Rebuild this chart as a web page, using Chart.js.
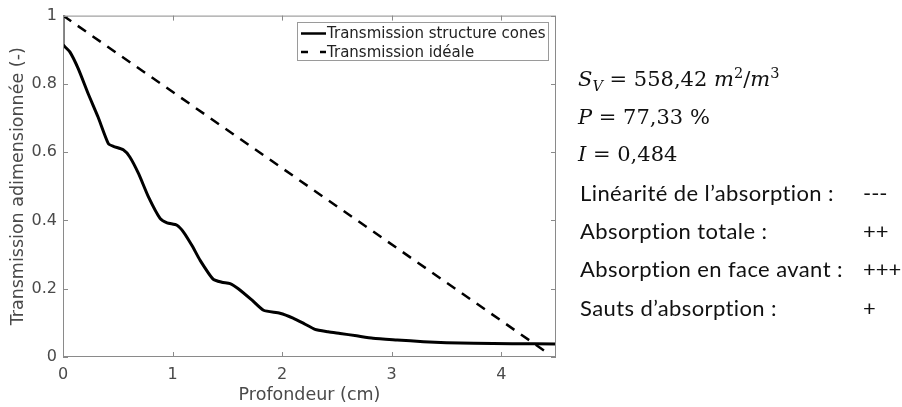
<!DOCTYPE html>
<html>
<head>
<meta charset="utf-8">
<script src="https://cdn.jsdelivr.net/npm/chart.js@4"></script>
<style>
  body { margin: 0; background: #fff; }
  #wrap { position: relative; width: 902px; height: 407px; overflow: hidden; }
  #graph { position: absolute; left: 0; top: 0; }
  .math { position: absolute; left: 578px; font-family: 'DejaVu Serif', serif; font-size: 21px; line-height: 22px; color: #111; white-space: nowrap; }
  .math i { font-style: italic; }
  .math sub, .math sup { font-size: 14.5px; line-height: 0; }
  .crit { position: absolute; left: 580px; font-family: Lato, sans-serif; font-size: 22px; letter-spacing: 0.4px; line-height: 22px; color: #111; white-space: nowrap; font-variant-ligatures: none; }
  .crit span { position: absolute; left: 283px; top: 0; letter-spacing: 0; }
</style>
</head>
<body>
<div id="wrap">
  <canvas id="graph" width="902" height="407"></canvas>
  <div class="math" style="top:68px"><i>S<sub>V</sub></i> = 558,42 <i>m</i><sup>2</sup>/<i>m</i><sup>3</sup></div>
  <div class="math" style="top:106px"><i>P</i> = 77,33 %</div>
  <div class="math" style="top:143px"><i>I</i> = 0,484</div>
  <div class="crit" style="top:182px">Linéarité de l’absorption :<span>---</span></div>
  <div class="crit" style="top:220px">Absorption totale :<span>++</span></div>
  <div class="crit" style="top:258px">Absorption en face avant :<span>+++</span></div>
  <div class="crit" style="top:297px">Sauts d’absorption :<span>+</span></div>
</div>
<script>
const depthCones = [0, 0, 0.064, 0.14, 0.23, 0.32, 0.414, 0.46, 0.55, 0.61, 0.69, 0.78, 0.886, 0.95, 1.04, 1.10, 1.18, 1.25, 1.37, 1.45, 1.525, 1.60, 1.72, 1.83, 1.98, 2.10, 2.20, 2.30, 2.42, 2.53, 2.68, 2.83, 3.05, 3.29, 3.5, 3.75, 4.1, 4.5]
const transCones = [1, 0.917, 0.893, 0.844, 0.771, 0.703, 0.625, 0.617, 0.607, 0.586, 0.537, 0.469, 0.406, 0.393, 0.386, 0.366, 0.325, 0.284, 0.228, 0.219, 0.215, 0.20, 0.168, 0.137, 0.128, 0.114, 0.098, 0.081, 0.074, 0.069, 0.062, 0.055, 0.050, 0.045, 0.042, 0.040, 0.039, 0.038]

const depthIdeal = [0, 4.4]
const transIdeal = [1, 0.017]

const xTicks = [0, 1, 2, 3, 4]
const yTicks = [0, 0.2, 0.4, 0.6, 0.8, 1]

const labels = ['Transmission structure cones', 'Transmission idéale']

const axisGrey = '#8a8a8a'
const textGrey = '#4a4a4a'

// cadre + petites graduations vers l'intérieur (style matlab)
const boxPlugin = {
    id: 'box',
    afterDraw(chart) {
        const ctx = chart.ctx
        const a = chart.chartArea
        const xs = chart.scales.x
        const ys = chart.scales.y
        ctx.save()
        ctx.strokeStyle = axisGrey
        ctx.lineWidth = 1
        ctx.strokeRect(a.left + 0.5, a.top + 0.5, a.right - a.left - 1, a.bottom - a.top - 1)
        ctx.beginPath()
        xTicks.forEach(v => {
            const px = Math.round(xs.getPixelForValue(v)) + 0.5
            ctx.moveTo(px, a.bottom); ctx.lineTo(px, a.bottom - 5)
            ctx.moveTo(px, a.top); ctx.lineTo(px, a.top + 5)
        })
        yTicks.forEach(v => {
            const py = Math.round(ys.getPixelForValue(v)) + 0.5
            ctx.moveTo(a.left, py); ctx.lineTo(a.left + 5, py)
            ctx.moveTo(a.right, py); ctx.lineTo(a.right - 5, py)
        })
        ctx.stroke()

        // légende encadrée en haut à droite
        const lx = 297, ly = 22, lw = 252, lh = 39
        ctx.fillStyle = '#fff'
        ctx.fillRect(lx, ly, lw, lh)
        ctx.strokeStyle = '#9a9a9a'
        ctx.strokeRect(lx + 0.5, ly + 0.5, lw - 1, lh - 1)
        ctx.font = '15px "DejaVu Sans"'
        ctx.textBaseline = 'middle'
        chart.data.datasets.forEach((ds, i) => {
            const cy = ly + 11.5 + i * 18.5
            ctx.strokeStyle = '#000'
            ctx.lineWidth = 2.5
            ctx.setLineDash(i === 0 ? [] : [7, 12])
            ctx.beginPath()
            ctx.moveTo(301, cy); ctx.lineTo(326, cy)
            ctx.stroke()
            ctx.setLineDash([])
            ctx.fillStyle = '#222'
            ctx.fillText(ds.label, 327, cy + 1)
        })
        ctx.restore()
    }
}

const graph = new Chart(
    document.getElementById('graph'),
    {
        type: 'line',
        data: {
            datasets: [
                {
                    label: labels[0],
                    data: depthCones.map((d, i) => ({ x: d, y: transCones[i] })),
                    borderColor: '#000',
                    borderWidth: 3,
                    tension: 0.2,
                    pointRadius: 0,
                },
                {
                    label: labels[1],
                    data: depthIdeal.map((d, i) => ({ x: d, y: transIdeal[i] })),
                    borderColor: '#000',
                    borderWidth: 2.5,
                    borderDash: [10, 8],
                    pointRadius: 0,
                },
            ],
        },
        options: {
            responsive: false,
            animation: false,
            layout: {
                padding: { top: 15, right: 346, left: 0, bottom: 0 }
            },
            scales: {
                x: {
                    type: 'linear',
                    min: 0,
                    max: 4.5,
                    afterFit: s => { s.height = 50 },
                    afterBuildTicks: s => { s.ticks = xTicks.map(v => ({ value: v })) },
                    grid: { display: false, drawTicks: false },
                    border: { display: false },
                    ticks: {
                        color: textGrey,
                        padding: 8,
                        maxRotation: 0,
                        font: { family: 'DejaVu Sans', size: 16 },
                    },
                    title: {
                        display: true,
                        text: 'Profondeur (cm)',
                        color: textGrey,
                        padding: { top: 0, bottom: 1.5 },
                        font: { family: 'DejaVu Sans', size: 17.5 },
                    }
                },
                y: {
                    min: 0,
                    max: 1,
                    afterFit: s => { s.width = 63 },
                    afterBuildTicks: s => { s.ticks = yTicks.map(v => ({ value: v })) },
                    grid: { display: false, drawTicks: false },
                    border: { display: false },
                    ticks: {
                        color: textGrey,
                        padding: 6,
                        font: { family: 'DejaVu Sans', size: 16 },
                        callback: v => String(+v.toFixed(1)),
                    },
                    title: {
                        display: true,
                        text: 'Transmission adimensionnée (-)',
                        color: textGrey,
                        padding: { top: 7.5, bottom: 0 },
                        font: { family: 'DejaVu Sans', size: 17.5 },
                    }
                }
            },
            plugins: {
                legend: { display: false },
                tooltip: { enabled: false },
            }
        },
        plugins: [boxPlugin]
    }
)
</script>
</body>
</html>
